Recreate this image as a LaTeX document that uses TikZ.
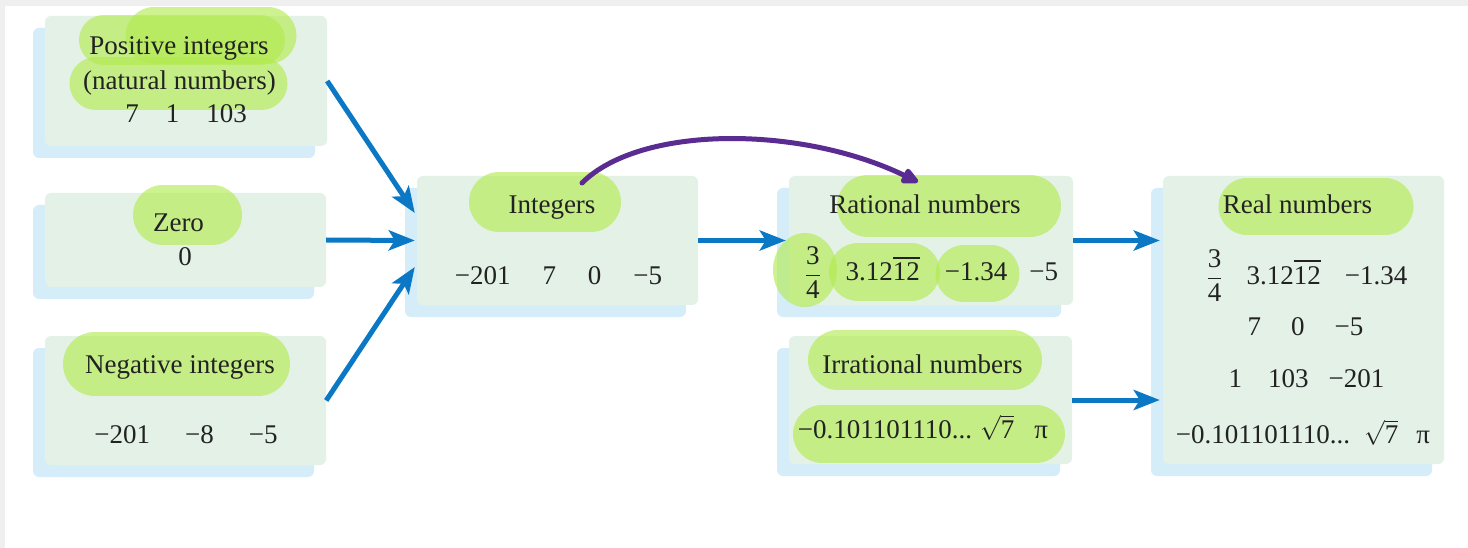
\documentclass[tikz,border=0pt]{standalone}
\usepackage{fontspec}
\setmainfont{Liberation Serif}
\usetikzlibrary{arrows.meta,shadows,calc}

\definecolor{panel}{HTML}{E4F1E7}
\definecolor{panelshade}{HTML}{D4EDF9}
\definecolor{flow}{HTML}{0A78C4}
\definecolor{ink}{HTML}{222222}
\definecolor{marker}{rgb}{0.70,0.92,0.30}
\definecolor{pen}{HTML}{5A2C91}
\definecolor{frame}{HTML}{EFEFEF}

% spacing and number helpers
\newcommand\spc[1]{\hspace{#1pt}}
\newcommand\quarters{$\displaystyle{\mbox{3}\over\mbox{4}}$}
\newcommand\repeating{3.12\setbox0\hbox{12}\rlap{\rule[22pt]{\wd0}{1.8pt}}\box0}
\newcommand\rootseven{$\sqrt{\mbox{7}}$}

\tikzset{
  panelbox/.style={fill=panel, rounded corners=6pt, inner sep=0pt, draw=none,
    general shadow={fill=panelshade, shadow xshift=-12pt, shadow yshift=-12pt}},
  txt/.style={text=ink, font=\fontsize{27}{32}\selectfont, inner sep=0pt, anchor=base},
  hilite/.style={draw=marker, draw opacity=0.62, line cap=round, line width=#1pt},
  flowarrow/.style={draw=flow, line width=5pt,
    -{Stealth[length=26pt,width=20pt,inset=6pt]}},
  penarrow/.style={draw=pen, line width=5pt, line cap=round,
    -{Triangle[length=20pt,width=17pt,round]}}
}

\begin{document}
\begin{tikzpicture}[x=1pt,y=-1pt]
\useasboundingbox (0,0) rectangle (1468,548);
\fill[white] (0,0) rectangle (1468,548);
\fill[frame] (0,0) rectangle (1468,6);
\fill[frame] (0,0) rectangle (5,548);

% panels
\node[panelbox, minimum width=282pt, minimum height=130pt] (pos)  at (186,81) {};
\node[panelbox, minimum width=281pt, minimum height=94pt]  (zero) at (185.5,240) {};
\node[panelbox, minimum width=281pt, minimum height=129pt] (neg)  at (185.5,400.5) {};
\node[panelbox, minimum width=281pt, minimum height=129pt] (ints) at (557.5,240.5) {};
\node[panelbox, minimum width=284pt, minimum height=129pt] (rat)  at (931,240.5) {};
\node[panelbox, minimum width=283pt, minimum height=128pt] (irr)  at (930.5,400) {};
\node[panelbox, minimum width=281pt, minimum height=288pt] (real) at (1303.5,320) {};

% highlighter strokes
\draw[hilite=50] (104,40) -- (260,40);
\draw[hilite=57] (154,36) -- (268,36);
\draw[hilite=53] (96,83.5) -- (261,83.5);
\draw[hilite=60] (163,215) -- (212,215);
\draw[hilite=64] (95,364) -- (258,364);
\draw[hilite=60] (499,202) -- (591,202);
\draw[hilite=62] (868,206) -- (1030,206);
\fill[marker, fill opacity=0.62] (805,270) ellipse [x radius=32, y radius=37];
\draw[hilite=58] (858,272) -- (911,272);
\draw[hilite=57] (964,274) -- (991,274);
\draw[hilite=60] (838,360) -- (1012,360);
\draw[hilite=58] (822,434) -- (1036,434);
\draw[hilite=57] (1247,206.5) -- (1385,206.5);

% texts
\node[txt] (posT)  at (179,55)   {Positive integers};
\node[txt] (posN)  at (179.5,90) {(natural numbers)};
\node[txt] (posV)  at (186,123)  {7\spc{27}1\spc{27}103};
\node[txt] (zeroT) at (178.5,232) {Zero};
\node[txt] (zeroV) at (185,266)  {0};
\node[txt] (negT)  at (180,373)  {Negative integers};
\node[txt] (negV)  at (186,443)  {−201\spc{35}−8\spc{35}−5};
\node[txt] (intT)  at (552,214)  {Integers};
\node[txt] (intV)  at (558.5,284) {−201\spc{32}7\spc{32}0\spc{32}−5};
\node[txt] (ratT)  at (925,214)  {Rational numbers};
\node[txt] (ratV)  at (931.5,281) {\quarters\spc{25}\repeating\spc{25}−1.34\spc{22}−5};
\node[txt] (irrT)  at (922.5,373) {Irrational numbers};
\node[txt] (irrV)  at (923,438)  {−0.101101110...\spc{8}\rootseven\spc{20}π};
\node[txt] (realT) at (1297.5,214) {Real numbers};
\node[txt] (realA) at (1307,284) {\quarters\spc{24}\repeating\spc{24}−1.34};
\node[txt] (realB) at (1305.5,335) {7\spc{30}0\spc{30}−5};
\node[txt] (realC) at (1306.5,387) {1\spc{26}103\spc{20}−201};
\node[txt] (realD) at (1303,443) {−0.101101110...\spc{14}\rootseven\spc{18}π};

% flow arrows
\draw[flowarrow] (pos.east)  -- ($(ints.west)+(-2,-27.5)$);
\draw[flowarrow] (zero.east) -- ($(ints.west)+(-2,0)$);
\draw[flowarrow] (neg.east)  -- ($(ints.west)+(-2,26.5)$);
\draw[flowarrow] (ints.east) -- ($(rat.west)+(-3,0)$);
\draw[flowarrow] (rat.east)  -- ($(real.west |- rat.east)+(-3,0)$);
\draw[flowarrow] (irr.east)  -- ($(real.west |- irr.east)+(-3,0)$);

% hand-drawn link from Integers to Rational numbers
\coordinate (linkA) at (582,183);
\coordinate (linkB) at (918,182);
\draw[penarrow] (linkA) .. controls (640,125) and (800,125) .. (linkB);
\end{tikzpicture}
\end{document}
